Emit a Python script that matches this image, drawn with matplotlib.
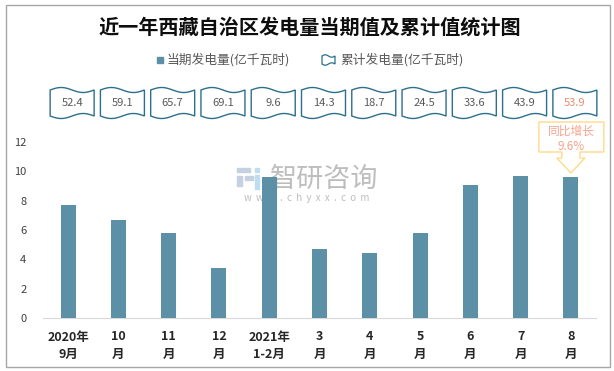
import numpy as np
import matplotlib
matplotlib.use('Agg')
import matplotlib.pyplot as plt
import matplotlib.transforms as mtransforms
from matplotlib.patches import Rectangle, Polygon

plt.rcParams['font.family'] = ['Noto Sans CJK SC', 'DejaVu Sans']

# data
categories = ['2020年\n9月', '10\n月', '11\n月', '12\n月', '2021年\n1-2月',
              '3\n月', '4\n月', '5\n月', '6\n月', '7\n月', '8\n月']
monthly = [7.7, 6.7, 5.8, 3.4, 9.6, 4.7, 4.4, 5.8, 9.1, 9.7, 9.6]
cumulative = [52.4, 59.1, 65.7, 69.1, 9.6, 14.3, 18.7, 24.5, 33.6, 43.9, 53.9]
title = '近一年西藏自治区发电量当期值及累计值统计图'
legend_labels = ['当期发电量(亿千瓦时)', '累计发电量(亿千瓦时)']
growth_text = ['同比增长', '9.6%']

bar_color = '#5B90A7'
wave_color = '#2C6F8C'

W, H = 614, 371
fig = plt.figure(figsize=(W / 100, H / 100), dpi=100)
# pixel coords, origin top-left
px = mtransforms.Affine2D().scale(1 / W, -1 / H).translate(0, 1) + fig.transFigure

ax = fig.add_axes([43 / W, 1 - 318 / H, (596 - 43) / W, (318 - 142) / H])
x = np.arange(len(categories))
ax.bar(x, monthly, width=0.3, color=bar_color, zorder=3)
ax.set_xlim(-0.5, len(categories) - 0.5)
ax.set_ylim(0, 12)
ax.set_yticks(range(0, 13, 2))
ax.set_xticks(x)
ax.set_xticklabels(categories, fontsize=9, fontweight='bold', color='#262626', linespacing=1.45)
ax.tick_params(axis='x', length=0, pad=9)
ax.tick_params(axis='y', length=0, pad=12, labelsize=8, labelcolor='#404040')
for s in ['top', 'right', 'left']:
    ax.spines[s].set_visible(False)
ax.spines['bottom'].set_color('#D9D9D9')
ax.patch.set_visible(False)

# bar centres in pixels
cxs = [ax.transData.transform((xi, 0))[0] for xi in x]


def wave(cx, top, bot, hw, amp, n=40, **kw):
    t = np.linspace(0, 1, n)
    xs = cx - hw + 2 * hw * t
    s = np.sin(2 * np.pi * t)
    upper = np.column_stack([xs, top - amp * s])
    lower = np.column_stack([xs[::-1], (bot + amp * s)[::-1]])
    return Polygon(np.vstack([upper, lower]), closed=True, transform=px, **kw)


# cumulative value tags
for i, (cx, v) in enumerate(zip(cxs, cumulative)):
    c = cx + 4
    fig.add_artist(wave(c, 90, 116, 22, 2.5, facecolor='white', edgecolor=wave_color, lw=1, zorder=5))
    col = '#F08C6C' if i == len(cumulative) - 1 else '#595959'
    fig.text(c, 103, f'{v}', transform=px, ha='center', va='center', fontsize=8, color=col, zorder=6)

# callout over last bar
cx = cxs[-1]
pts = [(cx - 32, 122), (cx + 33, 122), (cx + 33, 152), (cx + 9, 152), (cx + 9, 158),
       (cx + 14, 158), (cx, 173), (cx - 14, 158), (cx - 9, 158), (cx - 9, 152), (cx - 32, 152)]
fig.add_artist(Polygon(pts, closed=True, transform=px, facecolor='white',
                       edgecolor='#FFD98A', lw=1, zorder=5))
fig.text(cx + 0.5, 131, growth_text[0], transform=px, ha='center', va='center', fontsize=8.5,
         color='#F4A48C', zorder=6)
fig.text(cx + 0.5, 146, growth_text[1], transform=px, ha='center', va='center', fontsize=8.5,
         color='#F4A48C', zorder=6)

# title
fig.text(310, 27, title, transform=px, ha='center', va='center', fontsize=14.5,
         fontweight='bold', color='#0D0D0D')

# legend
fig.add_artist(Rectangle((157, 57), 6, 6, transform=px, color=bar_color))
fig.text(167, 60, legend_labels[0], transform=px, ha='left', va='center', fontsize=9.2, color='#595959')
fig.add_artist(wave(328.5, 56, 64, 6.5, 1.2, facecolor='white', edgecolor=wave_color, lw=0.9))
fig.text(340, 60, legend_labels[1], transform=px, ha='left', va='center', fontsize=9.2, color='#595959')

# watermark
for (rx, ry, rw, rh, rc) in [(237, 168, 13, 4, '#C5D0E0'), (237, 176, 5, 10, '#C5D0E0'),
                             (245, 176, 8, 4, '#C5D0E0'), (255, 168, 4, 4, '#BFDDF0'),
                             (255, 175, 4, 14, '#BFDDF0')]:
    fig.add_artist(Rectangle((rx, ry), rw, rh, transform=px, color=rc, zorder=-1))
fig.text(324, 179, '智研咨询', transform=px, ha='center', va='center', fontsize=19.5,
         color='#BDBDBD', zorder=-1)
fig.text(307, 198, 'w  w  w  .  c  h  y  x  x  .  c  o  m', transform=px, ha='center',
         va='center', fontsize=7, color='#BDBDBD', zorder=-1)

# outer frame
fig.add_artist(Rectangle((6, 5), 604, 362, transform=px, fill=False, edgecolor='#A6A6A6', lw=1))

fig.savefig('out.png', dpi=100)
